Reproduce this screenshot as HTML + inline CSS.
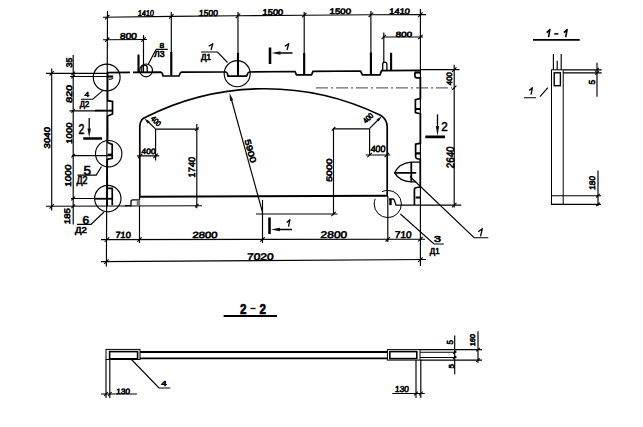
<!DOCTYPE html>
<html><head><meta charset="utf-8">
<style>
html,body{margin:0;padding:0;background:#fff;width:643px;height:427px;overflow:hidden}
svg{display:block}
text{font-family:"Liberation Sans",sans-serif;fill:#000;stroke:#000;stroke-width:0.6px}
</style></head><body>
<svg width="643" height="427" viewBox="0 0 643 427">
<g fill="none" stroke="#000" stroke-linecap="butt">
<path d="M103,17.3 L172,16.4 L238,15.8 L304,15.2 L371,14.8 L426,14.6" stroke-width="1.15" />
<path d="M107.5,11 L106.4,266.5" stroke-width="1.15" />
<path d="M171.3,12 V75 M238,12 V75 M304.2,12 V75 M370.9,11 V75 M420.4,9 V266" stroke-width="1.15" />
<path d="M105.00,19.40 L109.40,15.00" stroke-width="1.1"/>
<path d="M169.10,18.60 L173.50,14.20" stroke-width="1.1"/>
<path d="M235.80,18.00 L240.20,13.60" stroke-width="1.1"/>
<path d="M302.00,17.40 L306.40,13.00" stroke-width="1.1"/>
<path d="M368.70,17.00 L373.10,12.60" stroke-width="1.1"/>
<path d="M418.20,16.80 L422.60,12.40" stroke-width="1.1"/>
<text transform="translate(146.00,13.00) rotate(0) skewX(-4)" x="0" y="3.00" font-size="8.38" font-weight="normal" text-anchor="middle" textLength="16.00" lengthAdjust="spacingAndGlyphs">1410</text>
<text transform="translate(208.50,12.90) rotate(0) skewX(-4)" x="0" y="3.10" font-size="8.66" font-weight="normal" text-anchor="middle" textLength="19.00" lengthAdjust="spacingAndGlyphs">1500</text>
<text transform="translate(272.85,11.65) rotate(0) skewX(-4)" x="0" y="2.95" font-size="8.24" font-weight="normal" text-anchor="middle" textLength="20.70" lengthAdjust="spacingAndGlyphs">1500</text>
<text transform="translate(340.30,11.55) rotate(0) skewX(-4)" x="0" y="2.85" font-size="7.96" font-weight="normal" text-anchor="middle" textLength="21.80" lengthAdjust="spacingAndGlyphs">1500</text>
<text transform="translate(399.65,11.55) rotate(0) skewX(-4)" x="0" y="2.85" font-size="7.96" font-weight="normal" text-anchor="middle" textLength="20.70" lengthAdjust="spacingAndGlyphs">1410</text>
<path d="M103,39.8 L147,39.5 M143.5,35 V72" stroke-width="1.15" />
<path d="M105.00,41.90 L109.40,37.50" stroke-width="1.1"/>
<path d="M141.30,41.70 L145.70,37.30" stroke-width="1.1"/>
<text transform="translate(128.50,35.40) rotate(0) skewX(-4)" x="0" y="3.10" font-size="8.66" font-weight="normal" text-anchor="middle" textLength="17.00" lengthAdjust="spacingAndGlyphs">800</text>
<path d="M382.5,37 L423,37 M383.8,32.5 V63" stroke-width="1.15" />
<path d="M381.60,39.20 L386.00,34.80" stroke-width="1.1"/>
<path d="M418.20,39.20 L422.60,34.80" stroke-width="1.1"/>
<text transform="translate(403.95,34.30) rotate(0) skewX(-4)" x="0" y="2.70" font-size="7.54" font-weight="normal" text-anchor="middle" textLength="16.30" lengthAdjust="spacingAndGlyphs">800</text>
<path d="M51.7,68.5 V210.5 M73.2,55 V224.5" stroke-width="1.15" />
<path d="M45.9,73.4 H107 M70,76.5 H107 M69.5,110.9 H113 M72,155.6 H112 M71,198.5 H112 M45.9,206.2 L202,205.7" stroke-width="1.15" />
<path d="M49.50,75.60 L53.90,71.20" stroke-width="1.1"/>
<path d="M49.50,208.50 L53.90,204.10" stroke-width="1.1"/>
<path d="M71.40,75.20 L75.00,71.60" stroke-width="1.1"/>
<path d="M71.40,78.30 L75.00,74.70" stroke-width="1.1"/>
<path d="M71.40,112.70 L75.00,109.10" stroke-width="1.1"/>
<path d="M71.40,157.40 L75.00,153.80" stroke-width="1.1"/>
<path d="M71.40,200.30 L75.00,196.70" stroke-width="1.1"/>
<path d="M71.40,208.10 L75.00,204.50" stroke-width="1.1"/>
<text transform="translate(68.70,62.50) rotate(-90) skewX(-4)" x="0" y="2.90" font-size="8.10" font-weight="normal" text-anchor="middle" textLength="10.00" lengthAdjust="spacingAndGlyphs">35</text>
<text transform="translate(68.70,93.85) rotate(-90) skewX(-4)" x="0" y="2.90" font-size="8.10" font-weight="normal" text-anchor="middle" textLength="17.70" lengthAdjust="spacingAndGlyphs">820</text>
<text transform="translate(68.70,133.15) rotate(-90) skewX(-4)" x="0" y="2.90" font-size="8.10" font-weight="normal" text-anchor="middle" textLength="21.10" lengthAdjust="spacingAndGlyphs">1000</text>
<text transform="translate(68.30,175.70) rotate(-90) skewX(-4)" x="0" y="3.00" font-size="8.38" font-weight="normal" text-anchor="middle" textLength="22.20" lengthAdjust="spacingAndGlyphs">1000</text>
<text transform="translate(67.50,216.15) rotate(-90) skewX(-4)" x="0" y="2.90" font-size="8.10" font-weight="normal" text-anchor="middle" textLength="16.30" lengthAdjust="spacingAndGlyphs">185</text>
<text transform="translate(47.00,137.75) rotate(-90) skewX(-4)" x="0" y="3.00" font-size="8.38" font-weight="normal" text-anchor="middle" textLength="21.50" lengthAdjust="spacingAndGlyphs">3040</text>
<circle cx="106.7" cy="77.5" r="13.4" stroke-width="1.15"/>
<circle cx="108.7" cy="153.7" r="13.2" stroke-width="1.15"/>
<circle cx="107.8" cy="198.6" r="13.2" stroke-width="1.15"/>
<circle cx="237.2" cy="73.7" r="13" stroke-width="1.15"/>
<circle cx="387.8" cy="204" r="13.6" stroke-width="1" stroke-dasharray="47.7 9.85 100"/>
<circle cx="146.1" cy="70.4" r="6.4" stroke-width="1.15"/>
<path d="M81,99.2 H92.7 L102.5,90.9" stroke-width="1.15" />
<text transform="translate(86.85,93.90) rotate(0) skewX(0)" x="0" y="2.90" font-size="8.10" font-weight="normal" text-anchor="middle" textLength="4.70" lengthAdjust="spacingAndGlyphs">4</text>
<text transform="translate(84.50,103.90) rotate(0) skewX(0)" x="0" y="2.71" font-size="8.75" font-weight="normal" text-anchor="middle" textLength="9.40" lengthAdjust="spacingAndGlyphs">Д2</text>
<path d="M77.5,175.1 H96.2 L101.5,166.5" stroke-width="1.15" />
<text transform="translate(87.25,170.25) rotate(0) skewX(0)" x="0" y="4.25" font-size="11.87" font-weight="normal" text-anchor="middle" textLength="7.50" lengthAdjust="spacingAndGlyphs">5</text>
<text transform="translate(82.00,180.75) rotate(0) skewX(0)" x="0" y="3.29" font-size="10.62" font-weight="normal" text-anchor="middle" textLength="11.00" lengthAdjust="spacingAndGlyphs">Д2</text>
<path d="M77,224.3 H91 L104,212" stroke-width="1.15" />
<text transform="translate(85.90,220.40) rotate(0) skewX(0)" x="0" y="3.60" font-size="10.06" font-weight="normal" text-anchor="middle" textLength="6.60" lengthAdjust="spacingAndGlyphs">6</text>
<text transform="translate(80.90,230.20) rotate(0) skewX(0)" x="0" y="2.71" font-size="8.75" font-weight="normal" text-anchor="middle" textLength="11.80" lengthAdjust="spacingAndGlyphs">Д2</text>
<path d="M201,52 H217.5 L227.5,62.5" stroke-width="1.15" />
<path d="M211.00,50.00 L212.75,43.75 L208.75,46.25" fill="none" stroke="#000" stroke-width="1.3" stroke-linejoin="round"/>
<text transform="translate(206.00,57.12) rotate(0) skewX(0)" x="0" y="2.62" font-size="8.44" font-weight="normal" text-anchor="middle" textLength="10.00" lengthAdjust="spacingAndGlyphs">Д1</text>
<path d="M156,49.3 H167.8 M156,49.5 L148.4,64" stroke-width="1.15" />
<text transform="translate(161.95,44.95) rotate(0) skewX(0)" x="0" y="2.65" font-size="7.40" font-weight="normal" text-anchor="middle" textLength="4.70" lengthAdjust="spacingAndGlyphs">8</text>
<text transform="translate(159.25,54.05) rotate(0) skewX(0)" x="0" y="2.95" font-size="8.24" font-weight="normal" text-anchor="middle" textLength="10.50" lengthAdjust="spacingAndGlyphs">Л3</text>
<path d="M400.4,214 L434,244 H443.8" stroke-width="1.15" />
<text transform="translate(437.50,238.50) rotate(0) skewX(0)" x="0" y="3.50" font-size="9.78" font-weight="normal" text-anchor="middle" textLength="7.00" lengthAdjust="spacingAndGlyphs">3</text>
<text transform="translate(434.70,251.10) rotate(0) skewX(0)" x="0" y="2.71" font-size="8.75" font-weight="normal" text-anchor="middle" textLength="9.80" lengthAdjust="spacingAndGlyphs">Д1</text>
<path d="M410,176.5 L474.1,237.7 H488.3" stroke-width="1.15" />
<path d="M480.55,236.40 L482.34,228.70 L478.25,231.78" fill="none" stroke="#000" stroke-width="1.3" stroke-linejoin="round"/>
<path d="M155.2,129.1 H198.6 M155.6,128.7 V160.5 M136.9,155.9 H159.3 M196.8,124 V208.3" stroke-width="1.15" />
<path d="M153.40,158.10 L157.80,153.70" stroke-width="1.1"/>
<path d="M138.00,158.10 L142.40,153.70" stroke-width="1.1"/>
<path d="M195.00,130.90 L198.60,127.30" stroke-width="1.1"/>
<path d="M195.00,207.40 L198.60,203.80" stroke-width="1.1"/>
<path d="M155.2,128.7 L147,120.5" stroke-width="1.15" />
<path d="M144.40,118.40 L149.78,121.46 L147.71,123.63 Z" fill="#111" stroke="none"/>
<text transform="translate(156.00,121.00) rotate(45) skewX(0)" x="0" y="2.75" font-size="7.68" font-weight="normal" text-anchor="middle" textLength="11.00" lengthAdjust="spacingAndGlyphs">400</text>
<text transform="translate(148.55,151.20) rotate(0) skewX(-4)" x="0" y="2.80" font-size="7.82" font-weight="normal" text-anchor="middle" textLength="14.10" lengthAdjust="spacingAndGlyphs">400</text>
<text transform="translate(191.60,167.10) rotate(-90) skewX(-4)" x="0" y="3.30" font-size="9.22" font-weight="normal" text-anchor="middle" textLength="20.60" lengthAdjust="spacingAndGlyphs">1740</text>
<path d="M333.1,128.8 H369.6 M369.6,128.4 V155.6 M365.9,155 H390.3 M333.5,128 V215" stroke-width="1.15" />
<path d="M331.70,130.60 L335.30,127.00" stroke-width="1.1"/>
<path d="M367.40,157.20 L371.80,152.80" stroke-width="1.1"/>
<path d="M384.60,157.20 L389.00,152.80" stroke-width="1.1"/>
<path d="M331.30,216.20 L335.70,211.80" stroke-width="1.1"/>
<path d="M369.6,128.4 L379,119" stroke-width="1.15" />
<path d="M381.80,116.20 L378.62,121.50 L376.50,119.38 Z" fill="#111" stroke="none"/>
<text transform="translate(368.00,118.00) rotate(-45) skewX(0)" x="0" y="2.75" font-size="7.68" font-weight="normal" text-anchor="middle" textLength="11.00" lengthAdjust="spacingAndGlyphs">400</text>
<text transform="translate(378.05,148.55) rotate(0) skewX(-4)" x="0" y="3.25" font-size="9.08" font-weight="normal" text-anchor="middle" textLength="14.90" lengthAdjust="spacingAndGlyphs">400</text>
<text transform="translate(329.40,170.10) rotate(-90) skewX(-4)" x="0" y="2.80" font-size="7.82" font-weight="normal" text-anchor="middle" textLength="23.40" lengthAdjust="spacingAndGlyphs">5000</text>
<path d="M231,98 L262.7,213" stroke-width="1.15" />
<path d="M229.50,92.90 L233.27,100.16 L229.99,101.06 Z" fill="#111" stroke="none"/>
<text transform="translate(250.50,151.00) rotate(74.5) skewX(0)" x="0" y="3.00" font-size="8.38" font-weight="normal" text-anchor="middle" textLength="24.00" lengthAdjust="spacingAndGlyphs">5900</text>
<path d="M101,239.6 L425,239.2 M101,261.6 L426,259.5" stroke-width="1.15" />
<path d="M139.5,197 V243 M262.5,200 V243 M387.8,196 V242 M256,214 H337.5" stroke-width="1.15" />
<path d="M104.80,241.80 L109.20,237.40" stroke-width="1.1"/>
<path d="M137.30,241.70 L141.70,237.30" stroke-width="1.1"/>
<path d="M260.30,241.60 L264.70,237.20" stroke-width="1.1"/>
<path d="M385.60,241.50 L390.00,237.10" stroke-width="1.1"/>
<path d="M418.20,241.40 L422.60,237.00" stroke-width="1.1"/>
<path d="M104.30,263.80 L108.70,259.40" stroke-width="1.1"/>
<path d="M418.20,261.80 L422.60,257.40" stroke-width="1.1"/>
<text transform="translate(123.10,235.20) rotate(0) skewX(-4)" x="0" y="3.20" font-size="8.94" font-weight="normal" text-anchor="middle" textLength="15.40" lengthAdjust="spacingAndGlyphs">710</text>
<text transform="translate(205.00,235.20) rotate(0) skewX(-4)" x="0" y="3.20" font-size="8.94" font-weight="normal" text-anchor="middle" textLength="25.20" lengthAdjust="spacingAndGlyphs">2800</text>
<text transform="translate(333.90,234.30) rotate(0) skewX(-4)" x="0" y="3.50" font-size="9.78" font-weight="normal" text-anchor="middle" textLength="26.60" lengthAdjust="spacingAndGlyphs">2800</text>
<text transform="translate(403.20,234.30) rotate(0) skewX(-4)" x="0" y="3.50" font-size="9.78" font-weight="normal" text-anchor="middle" textLength="16.80" lengthAdjust="spacingAndGlyphs">710</text>
<text transform="translate(260.30,256.40) rotate(0) skewX(-4)" x="0" y="3.40" font-size="9.50" font-weight="normal" text-anchor="middle" textLength="26.60" lengthAdjust="spacingAndGlyphs">7020</text>
<path d="M420,69.6 H459.5 M454.2,64.7 V207.5" stroke-width="1.15" />
<path d="M452.00,71.80 L456.40,67.40" stroke-width="1.1"/>
<path d="M452.00,89.95 L456.40,85.55" stroke-width="1.1"/>
<path d="M452.00,207.30 L456.40,202.90" stroke-width="1.1"/>
<path d="M316,87.9 H452" stroke-width="1.1" stroke="#666" stroke-dasharray="12 3 2 3"/>
<text transform="translate(448.80,78.75) rotate(-90) skewX(-4)" x="0" y="2.80" font-size="7.82" font-weight="normal" text-anchor="middle" textLength="13.10" lengthAdjust="spacingAndGlyphs">400</text>
<text transform="translate(449.75,157.35) rotate(-90) skewX(-4)" x="0" y="3.85" font-size="10.75" font-weight="normal" text-anchor="middle" textLength="21.90" lengthAdjust="spacingAndGlyphs">2640</text>
<path d="M270,47.5 V64 M269.5,217.5 V234 M83.3,138.5 H102 M425.3,136.9 H445" stroke-width="2.6" />
<path d="M292.5,53 H276" stroke-width="1.5" />
<path d="M271.50,53.00 L280.50,51.30 L280.50,54.70 Z" fill="#111" stroke="none"/>
<path d="M287.00,50.00 L288.75,43.75 L284.75,46.25" fill="none" stroke="#000" stroke-width="1.3" stroke-linejoin="round"/>
<path d="M292,229.5 H276" stroke-width="1.5" />
<path d="M271.00,229.50 L280.00,227.80 L280.00,231.20 Z" fill="#111" stroke="none"/>
<path d="M288.50,226.70 L289.90,219.70 L286.70,222.50" fill="none" stroke="#000" stroke-width="1.3" stroke-linejoin="round"/>
<path d="M89.2,118 V130" stroke-width="1.3" />
<path d="M89.20,137.50 L87.50,128.50 L90.90,128.50 Z" fill="#111" stroke="none"/>
<text transform="translate(81.55,129.05) rotate(0) skewX(0)" x="0" y="5.25" font-size="14.66" font-weight="normal" text-anchor="middle" textLength="5.90" lengthAdjust="spacingAndGlyphs">2</text>
<path d="M437.5,114.4 V128" stroke-width="1.3" />
<path d="M437.50,136.00 L435.80,126.00 L439.20,126.00 Z" fill="#111" stroke="none"/>
<text transform="translate(444.55,126.60) rotate(0) skewX(0)" x="0" y="4.70" font-size="13.13" font-weight="normal" text-anchor="middle" textLength="6.50" lengthAdjust="spacingAndGlyphs">2</text>
<path d="M107,72.6 L130,72.4 M133,72.4 L160.5,72.2 Q162,72.3 162.5,74 L163,76 L179,76 L180,73.5 Q180.5,72.2 182,72.2 L226,72 Q227,72 227.5,74 L228,76.2 L246.5,76.2 L247.5,74 Q248,72 249.5,72 L295,71.5 L296.5,74.8 L311.5,74.8 L313,71.3 L360.5,71 L362.5,74.9 L380,74.9 L381.6,70.6 L420.5,70.3" stroke-width="1.7" />
<path d="M107.6,72.6 V100.7 L112.5,101.5 V114 L107.6,116 V142.5 L112.2,144.4 V158.4 L107.2,159.4 V206" stroke-width="1.7" />
<path d="M107.6,76.5 H113.2" stroke-width="2.2" />
<path d="M109,79.3 Q112,79.3 113,78" stroke-width="1.2" />
<path d="M107.75,154.7 H112.2" stroke-width="2.2" />
<path d="M106.6,188.4 H112.25 V205.3" stroke-width="1.7" />
<path d="M95,198.75 H112" stroke-width="1.8" />
<path d="M95,110.5 H112.5" stroke-width="1.6" />
<path d="M414.7,72.5 H421" stroke-width="2.2" />
<path d="M414.9,72.5 V76 Q415,77.8 417,77.8 H420.4 V98.5 L415.4,99.6 V112.5 L420.4,113.8 V143.2 L415.6,144.2 V156.8 Q416,159 420.3,159 V187" stroke-width="1.7" />
<path d="M415.4,109 H421 M415.6,153.3 H421 M415.6,197.5 H421" stroke-width="2.2" />
<path d="M414.4,205.1 V189.5 Q414.4,187.7 417,187.5 L420.3,187" stroke-width="1.7" />
<path d="M139.8,197 L139.8,126 Q140.2,118.5 146,117.1 A264,264 0 0 1 380,115.1 Q387,118.5 387.2,127 L387.2,196" stroke-width="1.7" />
<path d="M139.8,196.7 L387.2,195.8" stroke-width="1.9" />
<path d="M125,205.6 H131 V201.5 Q131,199.8 133,199.8 H139.8" stroke-width="1.3" />
<rect x="136.7" y="199.8" width="3.3" height="5.8" fill="#777" stroke="none"/>
<path d="M171.3,52 V75.5 M238,53 V76 M304.2,53 V74.5 M370.9,52.5 V74.5 M138.5,54.6 V72.2 M391.1,52.7 V70" stroke-width="2.1" />
<path d="M141.8,72 V67.5 Q141.8,65.2 144.5,65.2 Q147.2,65.2 147.2,67.5 V72" stroke-width="1.3" />
<path d="M382.7,70 V64.5 Q382.7,62.2 384.8,62.2 Q386.9,62.2 386.9,64.5 V70" stroke-width="1.3" />
<path d="M420.3,162.1 H411.3 Q399.5,162.8 394.6,172.8 Q399.5,181.2 411.3,181.8 H416" stroke-width="1.3" />
<path d="M394.6,172.8 H416.2 M411.3,162.1 V181.8" stroke-width="1.8" />
<path d="M390.5,199 V205.1" stroke-width="2.4" />
<path d="M389,199 H393 Q394,199 394.5,200.5 L396,205.1 H461.3" stroke-width="1.3" />
</g>
<g fill="none" stroke="#000">
<path d="M553.4,53.9 V69.8 M561.2,53.9 V69.8 M557.2,60.8 V69.8" stroke-width="1.15" />
<rect x="551.5" y="69.8" width="11.7" height="134.6" stroke-width="1"/>
<rect x="554.2" y="72.8" width="6.2" height="12.9" stroke-width="1.4"/>
<path d="M563.2,69.8 H601.7 M563.2,72.8 H601.7 M597,62.8 V96.7 M524,97.7 H536 M540,96.7 L547.9,87.7" stroke-width="1.15" />
<path d="M595.20,71.60 L598.80,68.00" stroke-width="1.1"/>
<path d="M595.20,74.60 L598.80,71.00" stroke-width="1.1"/>
<path d="M551.5,195.7 H601 M551.5,204.4 H601 M598,170.6 V206" stroke-width="1.15" />
<path d="M596.20,197.50 L599.80,193.90" stroke-width="1.1"/>
<path d="M596.20,206.20 L599.80,202.60" stroke-width="1.1"/>
<path d="M533,39.9 H579.7" stroke-width="1.8" />
</g>
<path d="M548.50,37.20 L549.90,29.60 L546.70,32.64" fill="none" stroke="#000" stroke-width="1.6" stroke-linejoin="round"/>
<path d="M554.3,33.9 H558.4" stroke="#000" stroke-width="1.5"/>
<path d="M565.70,37.20 L567.10,29.60 L563.90,32.64" fill="none" stroke="#000" stroke-width="1.6" stroke-linejoin="round"/>
<path d="M531.00,94.70 L532.40,87.70 L529.20,90.50" fill="none" stroke="#000" stroke-width="1.3" stroke-linejoin="round"/>
<text transform="translate(592.10,82.05) rotate(-90) skewX(0)" x="0" y="3.20" font-size="8.94" font-weight="normal" text-anchor="middle" textLength="4.70" lengthAdjust="spacingAndGlyphs">5</text>
<text transform="translate(592.10,182.90) rotate(-90) skewX(-4)" x="0" y="2.90" font-size="8.10" font-weight="normal" text-anchor="middle" textLength="13.80" lengthAdjust="spacingAndGlyphs">180</text>
<g fill="none" stroke="#000">
<rect x="106" y="349.4" width="34" height="10.1" stroke-width="1"/>
<rect x="387.4" y="349.6" width="32.6" height="10.5" stroke-width="1"/>
<path d="M420,349.6 H482 M420,352.2 H456.5 M420,357.5 H456.5 M420,360.1 H482" stroke-width="1.15" />
<path d="M106,359.5 V397.9 M109.8,359.5 V397.9 M101,394 H136.9 M131.5,359.5 L159,388 H170.4" stroke-width="1.15" />
<path d="M416,360 V398 M420.8,360 V398 M392.3,393.5 H424.8 M454.7,335.5 V374.2 M478,331.2 V362.8" stroke-width="1.15" />
<path d="M104.20,395.80 L107.80,392.20" stroke-width="1.1"/>
<path d="M108.00,395.80 L111.60,392.20" stroke-width="1.1"/>
<path d="M414.20,395.30 L417.80,391.70" stroke-width="1.1"/>
<path d="M419.00,395.30 L422.60,391.70" stroke-width="1.1"/>
<path d="M453.10,353.80 L456.30,350.60" stroke-width="1.1"/>
<path d="M453.10,359.10 L456.30,355.90" stroke-width="1.1"/>
<path d="M476.20,351.40 L479.80,347.80" stroke-width="1.1"/>
<path d="M476.20,361.90 L479.80,358.30" stroke-width="1.1"/>
<path d="M223.6,316 H277" stroke-width="1.8" />
<rect x="109.6" y="351.6" width="28" height="7.2" stroke-width="1.6"/>
<rect x="389.8" y="351.6" width="27" height="7" stroke-width="1.6"/>
<path d="M140,352 H387.4 M140,358.4 H387.4" stroke-width="1.9" />
</g>
<text transform="translate(243.25,308.60) rotate(0) skewX(0)" x="0" y="5.00" font-size="13.97" font-weight="bold" text-anchor="middle" textLength="6.50" lengthAdjust="spacingAndGlyphs">2</text>
<path d="M250.5,308.5 H255.5" stroke="#000" stroke-width="1.3"/>
<text transform="translate(262.75,308.60) rotate(0) skewX(0)" x="0" y="5.00" font-size="13.97" font-weight="bold" text-anchor="middle" textLength="6.50" lengthAdjust="spacingAndGlyphs">2</text>
<text transform="translate(123.15,390.75) rotate(0) skewX(-4)" x="0" y="2.75" font-size="7.68" font-weight="normal" text-anchor="middle" textLength="13.70" lengthAdjust="spacingAndGlyphs">130</text>
<text transform="translate(402.00,388.70) rotate(0) skewX(-4)" x="0" y="3.10" font-size="8.66" font-weight="normal" text-anchor="middle" textLength="14.00" lengthAdjust="spacingAndGlyphs">130</text>
<text transform="translate(163.90,383.35) rotate(0) skewX(0)" x="0" y="2.35" font-size="6.56" font-weight="normal" text-anchor="middle" textLength="5.40" lengthAdjust="spacingAndGlyphs">4</text>
<text transform="translate(449.90,342.25) rotate(-90) skewX(0)" x="0" y="3.10" font-size="8.66" font-weight="normal" text-anchor="middle" textLength="4.50" lengthAdjust="spacingAndGlyphs">5</text>
<text transform="translate(450.65,366.25) rotate(-90) skewX(0)" x="0" y="2.85" font-size="7.96" font-weight="normal" text-anchor="middle" textLength="4.50" lengthAdjust="spacingAndGlyphs">5</text>
<text transform="translate(472.50,340.00) rotate(-90) skewX(-4)" x="0" y="2.50" font-size="6.98" font-weight="normal" text-anchor="middle" textLength="12.00" lengthAdjust="spacingAndGlyphs">160</text>
</svg></body></html>
